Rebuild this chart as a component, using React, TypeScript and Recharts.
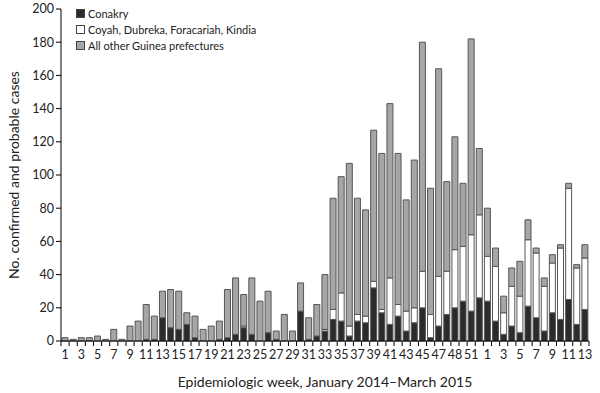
import React from 'react';
import { BarChart, Bar, XAxis, YAxis, Label } from 'recharts';

// epidemiologic weeks: 2014 wk 1-52, then 2015 wk 1-13
const weeks2014 = Array.from({ length: 52 }, (_, i) => `2014-${i + 1}`);
const weeks2015 = Array.from({ length: 13 }, (_, i) => `2015-${i + 1}`);
const weeks = [...weeks2014, ...weeks2015];

// labels printed under every other week (as in the source figure)
const tickLabels = [
  '1', '3', '5', '7', '9', '11', '13', '15', '17', '19', '21', '23', '25', '27', '29', '31', '33',
  '35', '37', '39', '41', '43', '45', '47', '48', '51', '1', '3', '5', '7', '9', '11', '13',
];

const conakry = [
  0, 0, 0, 0, 0, 0, 0, 0, 0, 0, 1, 1, 14, 8, 7, 10, 2, 0, 0, 1, 2, 4, 8, 4, 0, 5, 1, 0, 0, 18,
  1, 3, 6, 13, 12, 3, 12, 11, 32, 17, 10, 15, 6, 11, 20, 2, 9, 16, 20, 24, 18, 26,
  24, 12, 4, 9, 5, 21, 14, 6, 17, 13, 25, 10, 19,
];

const coyahEtc = [
  0, 0, 0, 0, 0, 0, 0, 0, 0, 0, 0, 0, 0, 0, 0, 0, 0, 0, 0, 0, 0, 0, 1, 0, 0, 0, 0, 0, 0, 0,
  0, 0, 1, 6, 17, 6, 4, 4, 4, 2, 28, 7, 12, 9, 22, 14, 30, 26, 35, 33, 46, 50,
  27, 33, 13, 24, 22, 40, 39, 27, 30, 43, 67, 34, 31,
];

const otherPrefectures = [
  2, 1, 2, 2, 3, 1, 7, 1, 9, 12, 21, 14, 16, 23, 23, 7, 13, 7, 9, 11, 29, 34, 19, 34, 24, 25, 5, 16, 6, 17,
  13, 19, 33, 67, 70, 98, 70, 64, 91, 94, 105, 91, 67, 89, 138, 76, 125, 54, 68, 38, 118, 40,
  29, 11, 10, 11, 21, 12, 3, 5, 5, 2, 3, 2, 8,
];

const yTicks = [0, 20, 40, 60, 80, 100, 120, 140, 160, 180, 200];

const data = weeks.map((w, i) => ({
  week: w,
  conakry: conakry[i],
  coyah: coyahEtc[i],
  other: otherPrefectures[i],
}));

const FONT = 'Lato, "Open Sans", sans-serif';
const HALF_BAND = 528 / 65 / 2;

const WeekTick = (props: any) => {
  const { x, y, index } = props;
  const last = index === weeks.length - 1;
  return (
    <g>
      <line x1={x - HALF_BAND} y1={y - 8} x2={x - HALF_BAND} y2={y - 3} stroke="#000" />
      {last && <line x1={x + HALF_BAND} y1={y - 8} x2={x + HALF_BAND} y2={y - 3} stroke="#000" />}
      {index % 2 === 0 && (
        <text x={x} y={y + 10} textAnchor="middle" fontSize={12.5} fill="#222" fontFamily={FONT}>
          {tickLabels[index / 2]}
        </text>
      )}
    </g>
  );
};

const legendItems = [
  { name: 'Conakry', fill: '#2b2b2b' },
  { name: 'Coyah, Dubreka, Foracariah, Kindia', fill: '#ffffff' },
  { name: 'All other Guinea prefectures', fill: '#a6a6a6' },
];

const LegendBox = () => (
  <div style={{ position: 'absolute', left: 76, top: 5, fontFamily: FONT, fontSize: 11, color: '#222' }}>
    {legendItems.map((it) => (
      <div key={it.name} style={{ display: 'flex', alignItems: 'center', height: 16 }}>
        <span
          style={{
            display: 'inline-block', width: 7, height: 7, background: it.fill,
            border: '1px solid #444', marginRight: 3,
          }}
        />
        {it.name}
      </div>
    ))}
  </div>
);

export default function App() {
  return (
    <div style={{ position: 'absolute', left: 0, top: 0, width: 600, height: 393, background: '#fff' }}>
      <BarChart
        width={600}
        height={393}
        data={data}
        margin={{ top: 9, right: 11, left: 0, bottom: 0 }}
        barSize={6}
      >
        <XAxis
          dataKey="week"
          interval={0}
          height={52}
          tick={<WeekTick />}
          tickLine={false}
          axisLine={{ stroke: '#000' }}
        >
          <Label
            value="Epidemiologic week, January 2014–March 2015"
            position="insideBottom"
            offset={6}
            style={{ fontFamily: FONT, fontSize: 14, fill: '#222' }}
          />
        </XAxis>
        <YAxis
          width={61}
          domain={[0, 200]}
          ticks={yTicks}
          interval={0}
          tickSize={5}
          tickLine={{ stroke: '#000' }}
          axisLine={{ stroke: '#000' }}
          tick={{ fontSize: 12.5, fill: '#222', fontFamily: FONT }}
        >
          <Label
            value="No. confirmed and probable cases"
            angle={-90}
            position="insideLeft"
            offset={14}
            style={{ fontFamily: FONT, fontSize: 14, fill: '#222', textAnchor: 'middle' }}
          />
        </YAxis>
        <Bar dataKey="conakry" stackId="a" fill="#2b2b2b" stroke="#555" strokeWidth={1} isAnimationActive={false} />
        <Bar dataKey="coyah" stackId="a" fill="#ffffff" stroke="#555" strokeWidth={1} isAnimationActive={false} />
        <Bar dataKey="other" stackId="a" fill="#a6a6a6" stroke="#555" strokeWidth={1} isAnimationActive={false} />
      </BarChart>
      <LegendBox />
    </div>
  );
}
